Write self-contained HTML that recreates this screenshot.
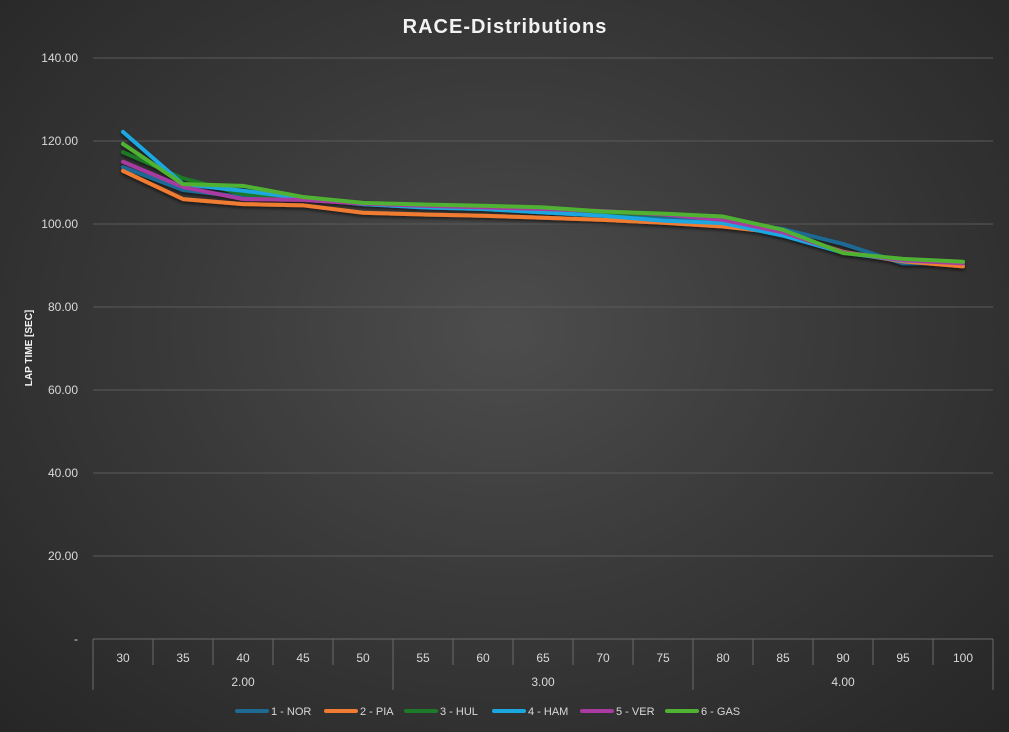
<!DOCTYPE html>
<html><head><meta charset="utf-8"><style>
body{margin:0;width:1009px;height:732px;overflow:hidden;background:radial-gradient(ellipse at 50% 45%,#4d4d4d 0%,#3a3a3a 45%,#262626 100%);font-family:"Liberation Sans",sans-serif}
svg{position:absolute;left:0;top:0}
</style></head><body>
<svg width="1009" height="732">
<defs><filter id="sh" x="-5%" y="-5%" width="110%" height="120%"><feDropShadow dx="0" dy="2" stdDeviation="1.5" flood-color="#000" flood-opacity="0.6"/></filter></defs>
<text x="505" y="33" text-anchor="middle" fill="#f2f2f2" font-size="20" font-weight="bold" letter-spacing="1">RACE-Distributions</text>
<g id="grid"></g><g id="lines" filter="url(#sh)"></g><g id="axis"></g><g id="legend"></g>
<text transform="translate(32,348) rotate(-90)" text-anchor="middle" fill="#f2f2f2" font-size="10" font-weight="bold">LAP TIME [SEC]</text>
</svg>
<script>
const categories=[30,35,40,45,50,55,60,65,70,75,80,85,90,95,100];
const groups=["2.00","3.00","4.00"];
const yTicks=[0,20,40,60,80,100,120,140];
const seriesNames=["1 - NOR","2 - PIA","3 - HUL","4 - HAM","5 - VER","6 - GAS"];
const colors=["#1f6a93","#f07b32","#1d7a28","#1aa7e0","#a83aa0","#4fb233"];
const nor=[113.7,108.2,106.5,106.3,104.8,104.2,103.8,103.2,102.6,101.3,100.5,98.8,95.2,90.5,90.6];
const pia=[112.8,106.0,104.8,104.5,102.7,102.3,102.0,101.5,101.0,100.3,99.4,97.8,93.3,91.0,89.8];
const hul=[117.3,111.0,107.2,106.4,104.9,104.3,104.0,103.6,102.8,102.2,101.4,98.3,93.0,91.4,90.8];
const ham=[122.2,109.6,108.0,106.2,104.8,104.0,103.6,102.8,102.0,100.8,100.2,97.2,93.1,91.2,90.6];
const ver=[115.0,108.9,106.0,105.8,104.9,104.4,104.0,103.6,103.1,102.3,101.0,98.0,93.2,91.3,90.5];
const gas=[119.3,109.6,109.2,106.5,105.1,104.7,104.4,104.0,103.0,102.5,101.8,98.6,93.0,91.6,90.9];
const series=[nor,pia,hul,ham,ver,gas];
const NS="http://www.w3.org/2000/svg";
const L=93,R=993,T=58,B=639,yMax=140;
const cw=(R-L)/categories.length;
const xs=i=>L+cw*(i+0.5);
const ys=v=>B-(v/yMax)*(B-T);
function mk(t,a,p){const e=document.createElementNS(NS,t);for(const k in a)e.setAttribute(k,a[k]);p.appendChild(e);return e;}
const grid=document.getElementById('grid'),axis=document.getElementById('axis'),lines=document.getElementById('lines'),leg=document.getElementById('legend');
yTicks.forEach(v=>{
 const y=ys(v);
 if(v>0){const g=mk('line',{x1:L,x2:R,y1:y,y2:y,stroke:'#5a5a5a','stroke-width':1},grid);
 
 }
 const t=mk('text',{x:78,y:y+4,'text-anchor':'end',fill:'#d9d9d9','font-size':12},axis);
 t.textContent=v===0?'-':v.toFixed(2);
 
 
});
const ax=mk('line',{x1:L,x2:R,y1:B,y2:B,stroke:'#6a6a6a'},axis);


for(let i=0;i<=categories.length;i++){
 const x=L+cw*i;const edge=(i%5===0);
 const s=mk('line',{x1:x,x2:x,y1:B,y2:edge?690:665,stroke:'#6a6a6a'},axis);
 
 
}
categories.forEach((c,i)=>{
 const t=mk('text',{x:xs(i),y:662,'text-anchor':'middle',fill:'#d9d9d9','font-size':12},axis);
 t.textContent=c;
 
 
});
groups.forEach((g,i)=>{
 const t=mk('text',{x:L+cw*5*(i+0.5),y:686,'text-anchor':'middle',fill:'#d9d9d9','font-size':12},axis);
 t.textContent=g;
 
 
});
series.forEach((d,si)=>{
 const p=mk('polyline',{points:d.map((v,i)=>xs(i)+','+ys(v)).join(' '),fill:'none',stroke:colors[si],'stroke-width':4,'stroke-linejoin':'round','stroke-linecap':'round'},lines);
 
 
});
const lx=[237,326,406,494,582,667];
seriesNames.forEach((n,i)=>{
 const g=mk('g',{},leg);
 
 
 mk('line',{x1:lx[i],x2:lx[i]+30,y1:711,y2:711,stroke:colors[i],'stroke-width':4,'stroke-linecap':'round'},g);
 const t=mk('text',{x:lx[i]+34,y:715,fill:'#d9d9d9','font-size':11},g);
 t.textContent=n;
});
</script>
</body></html>
